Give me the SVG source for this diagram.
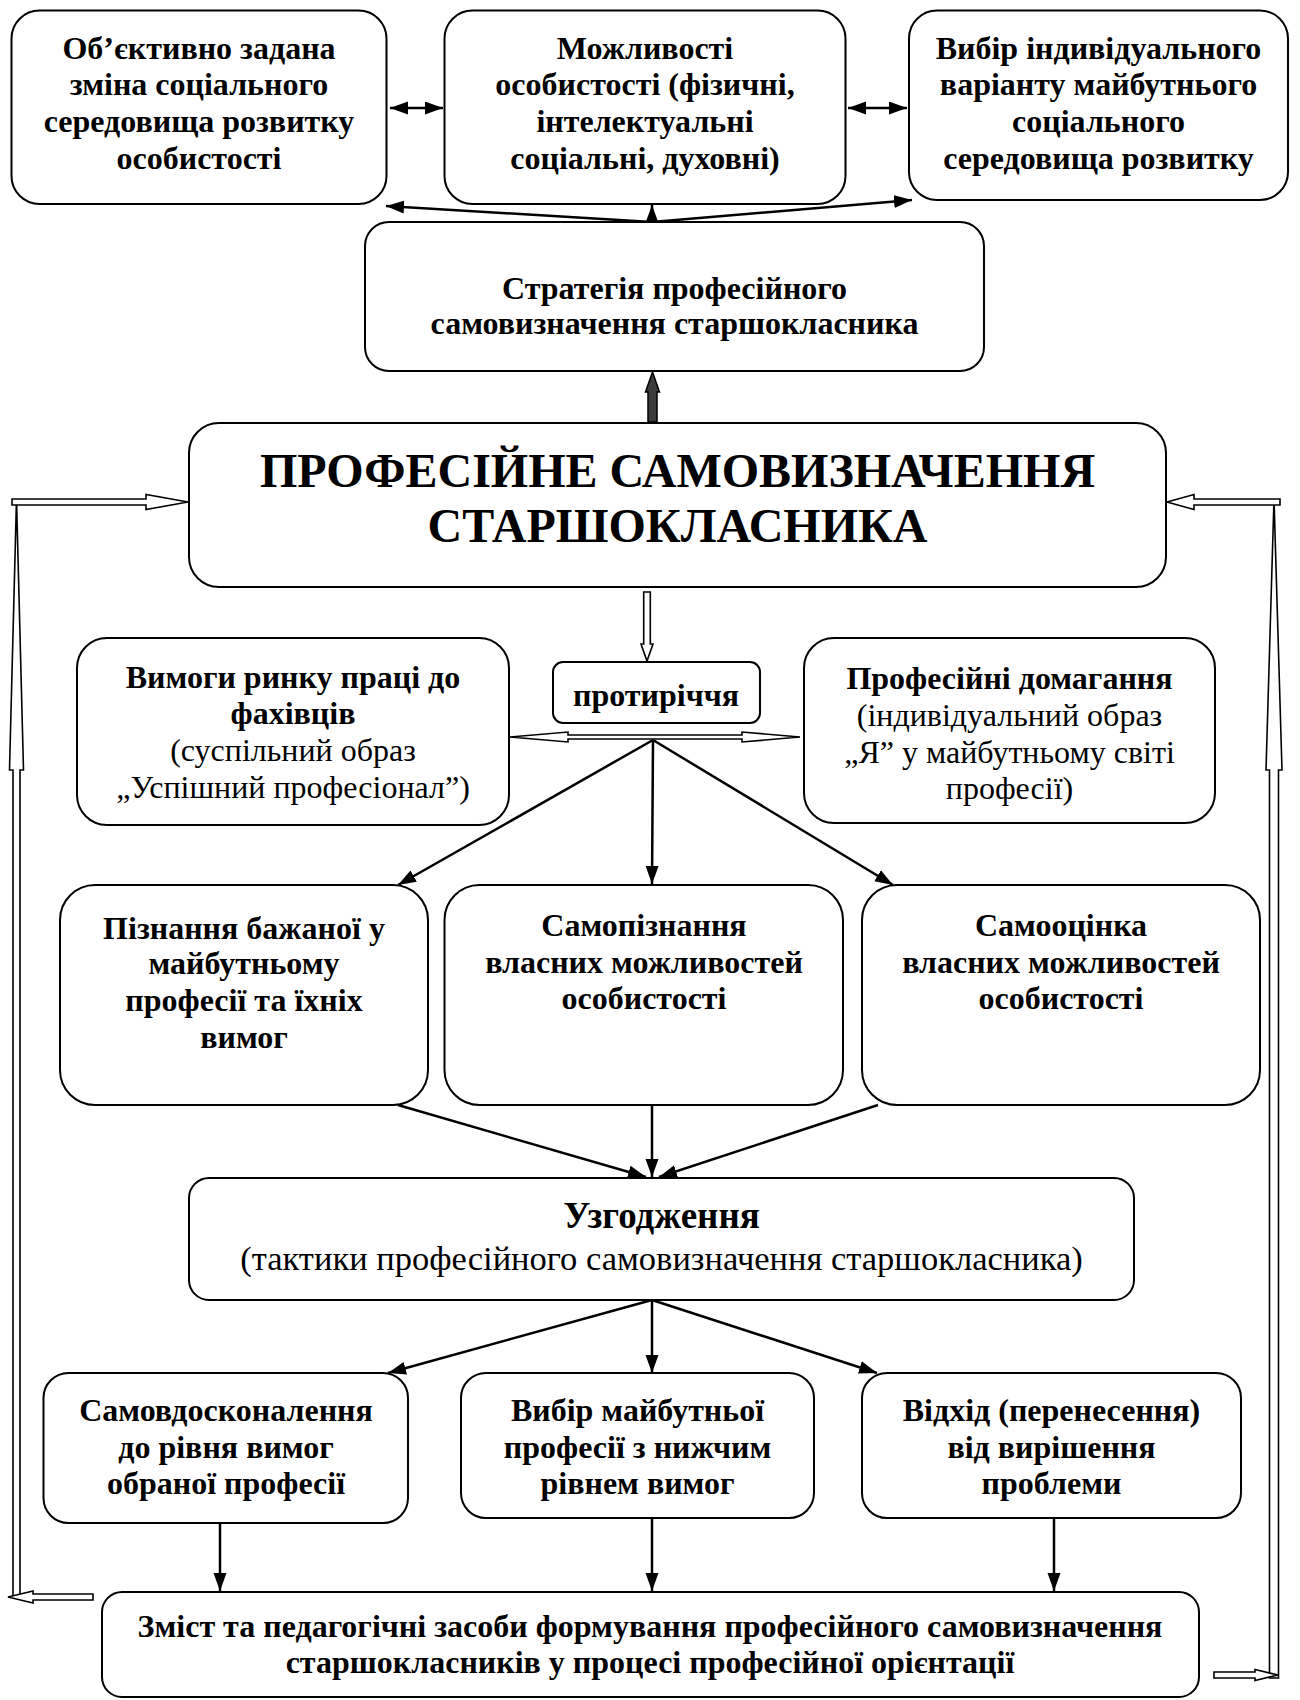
<svg xmlns="http://www.w3.org/2000/svg" width="1300" height="1700" viewBox="0 0 1300 1700">
<style>
.box{fill:#fff;stroke:#000;stroke-width:2}
.t{font-family:"Liberation Serif","Times New Roman",serif;font-size:32px;text-anchor:middle;fill:#000}
.b{font-weight:bold}
.ttl{font-size:48px;font-weight:bold}
.uz{font-size:37px;font-weight:bold}
.sub{font-size:34.5px}
.ln{stroke:#000;stroke-width:2.5;fill:none}
.open{fill:#fff;stroke:#000;stroke-width:1.6;stroke-linejoin:miter}
.blk{fill:#3c3c3c;stroke:#000;stroke-width:1.5}
</style>
<defs>
<marker id="ah" markerUnits="userSpaceOnUse" markerWidth="18" markerHeight="14" refX="18" refY="6.5" orient="auto-start-reverse">
<path d="M0,0 L18,6.5 L0,13 z" fill="#000"/>
</marker>
</defs>

<g id="connectors">
<line class="ln" x1="390" y1="108" x2="443" y2="108" marker-start="url(#ah)" marker-end="url(#ah)"/>
<line class="ln" x1="848" y1="108" x2="907" y2="108" marker-start="url(#ah)" marker-end="url(#ah)"/>
<line class="ln" x1="652" y1="222" x2="386" y2="206" marker-end="url(#ah)"/>
<line class="ln" x1="652" y1="222" x2="652" y2="205" marker-end="url(#ah)"/>
<line class="ln" x1="652" y1="222" x2="912" y2="200" marker-end="url(#ah)"/>
<polygon class="blk" points="652.5,372 659.5,392 657,392 657,422 648,422 648,392 645.5,392"/>
<polygon class="open" points="643.7,592 650.3,592 650.3,644 653,644 647,661 641,644 643.7,644"/>
<polygon class="open" points="510,737 568,732 568,735 742,735 742,732 800,737 742,742 742,739 568,739 568,742"/>
<line class="ln" x1="653" y1="740" x2="398" y2="885" marker-end="url(#ah)"/>
<line class="ln" x1="653" y1="740" x2="652" y2="884" marker-end="url(#ah)"/>
<line class="ln" x1="653" y1="740" x2="893" y2="885" marker-end="url(#ah)"/>
<line class="ln" x1="398" y1="1105" x2="646" y2="1177" marker-end="url(#ah)"/>
<line class="ln" x1="652" y1="1105" x2="652" y2="1177" marker-end="url(#ah)"/>
<line class="ln" x1="878" y1="1105" x2="659" y2="1177" marker-end="url(#ah)"/>
<line class="ln" x1="652" y1="1300" x2="388" y2="1373" marker-end="url(#ah)"/>
<line class="ln" x1="652" y1="1300" x2="652" y2="1373" marker-end="url(#ah)"/>
<line class="ln" x1="652" y1="1300" x2="877" y2="1373" marker-end="url(#ah)"/>
<line class="ln" x1="220" y1="1523" x2="220" y2="1591" marker-end="url(#ah)"/>
<line class="ln" x1="652" y1="1518" x2="652" y2="1591" marker-end="url(#ah)"/>
<line class="ln" x1="1054" y1="1518" x2="1054" y2="1591" marker-end="url(#ah)"/>
<polygon class="open" points="16.5,499 23.5,770 20,770 20,1597 13,1597 13,770 9.5,770"/>
<polygon class="open" points="12,499 146,499 146,494.5 188,502 146,509.5 146,505 12,505"/>
<polygon class="open" points="1274,499 1282,770 1278.5,770 1278.5,1678 1269.5,1678 1269.5,770 1266,770"/>
<polygon class="open" points="1280,499 1194,499 1194,494.5 1167,502 1194,509.5 1194,505 1280,505"/>
<polygon class="open" points="93,1594 33,1594 33,1591 8,1597 33,1603 33,1600 93,1600"/>
<polygon class="open" points="1214,1672 1255,1672 1255,1669.5 1278,1675 1255,1680.5 1255,1678 1214,1678"/>
</g>

<g id="node-a">
<rect class="box" x="11.5" y="10.5" width="375" height="193.5" rx="28"/>
<text class="t b" x="199" y="58.5">Об’єктивно задана</text>
<text class="t b" x="199" y="95.2">зміна соціального</text>
<text class="t b" x="199" y="132">середовища розвитку</text>
<text class="t b" x="199" y="168.6">особистості</text>
</g>
<g id="node-b">
<rect class="box" x="444.5" y="10.5" width="401" height="193.5" rx="28"/>
<text class="t b" x="645" y="58.5">Можливості</text>
<text class="t b" x="645" y="95.2">особистості (фізичні,</text>
<text class="t b" x="645" y="132">інтелектуальні</text>
<text class="t b" x="645" y="168.6">соціальні, духовні)</text>
</g>
<g id="node-c">
<rect class="box" x="909" y="10.5" width="379" height="189.5" rx="28"/>
<text class="t b" x="1098.5" y="58.5">Вибір індивідуального</text>
<text class="t b" x="1098.5" y="95.2">варіанту майбутнього</text>
<text class="t b" x="1098.5" y="132">соціального</text>
<text class="t b" x="1098.5" y="168.6">середовища розвитку</text>
</g>
<g id="node-strategy">
<rect class="box" x="365" y="222" width="619" height="149" rx="24"/>
<text class="t b" x="674.5" y="298.5">Стратегія професійного</text>
<text class="t b" x="674.5" y="334">самовизначення старшокласника</text>
</g>
<g id="node-main">
<rect class="box" x="189" y="423" width="977" height="164" rx="30"/>
<text class="t ttl" x="677.5" y="487">ПРОФЕСІЙНЕ САМОВИЗНАЧЕННЯ</text>
<text class="t ttl" x="677.5" y="542">СТАРШОКЛАСНИКА</text>
</g>
<g id="node-demands">
<rect class="box" x="77" y="638" width="432" height="187" rx="30"/>
<text class="t b" x="293" y="688">Вимоги ринку праці до</text>
<text class="t b" x="293" y="724">фахівців</text>
<text class="t" x="293" y="761">(суспільний образ</text>
<text class="t" x="293" y="798">„Успішний професіонал”)</text>
</g>
<g id="node-contradiction">
<rect class="box" x="553" y="662" width="207" height="61" rx="10"/>
<text class="t b" x="656" y="706">протиріччя</text>
</g>
<g id="node-claims">
<rect class="box" x="804" y="638" width="411" height="185" rx="30"/>
<text class="t b" x="1009.5" y="689">Професійні домагання</text>
<text class="t" x="1009.5" y="726">(індивідуальний образ</text>
<text class="t" x="1009.5" y="763">„Я” у майбутньому світі</text>
<text class="t" x="1009.5" y="799">професії)</text>
</g>
<g id="node-cognition">
<rect class="box" x="60" y="885" width="368" height="220" rx="35"/>
<text class="t b" x="244" y="939">Пізнання бажаної у</text>
<text class="t b" x="244" y="974">майбутньому</text>
<text class="t b" x="244" y="1011">професії та їхніх</text>
<text class="t b" x="244" y="1048">вимог</text>
</g>
<g id="node-selfcognition">
<rect class="box" x="444.5" y="885" width="398.5" height="220" rx="35"/>
<text class="t b" x="644" y="936">Самопізнання</text>
<text class="t b" x="644" y="973">власних можливостей</text>
<text class="t b" x="644" y="1009">особистості</text>
</g>
<g id="node-selfassessment">
<rect class="box" x="862" y="885" width="398" height="220" rx="35"/>
<text class="t b" x="1061" y="936">Самооцінка</text>
<text class="t b" x="1061" y="973">власних можливостей</text>
<text class="t b" x="1061" y="1009">особистості</text>
</g>
<g id="node-coordination">
<rect class="box" x="189" y="1178" width="945" height="122" rx="20"/>
<text class="t uz" x="661.5" y="1228">Узгодження</text>
<text class="t sub" x="661.5" y="1270">(тактики професійного самовизначення старшокласника)</text>
</g>
<g id="node-improvement">
<rect class="box" x="43.5" y="1373" width="364.5" height="150" rx="25"/>
<text class="t b" x="226" y="1421">Самовдосконалення</text>
<text class="t b" x="226" y="1458">до рівня вимог</text>
<text class="t b" x="226" y="1494">обраної професії</text>
</g>
<g id="node-choice">
<rect class="box" x="461" y="1373" width="353" height="145" rx="25"/>
<text class="t b" x="637.5" y="1421">Вибір майбутньої</text>
<text class="t b" x="637.5" y="1458">професії з нижчим</text>
<text class="t b" x="637.5" y="1494">рівнем вимог</text>
</g>
<g id="node-withdrawal">
<rect class="box" x="862" y="1373" width="379" height="145" rx="25"/>
<text class="t b" x="1051.5" y="1421">Відхід (перенесення)</text>
<text class="t b" x="1051.5" y="1458">від вирішення</text>
<text class="t b" x="1051.5" y="1494">проблеми</text>
</g>
<g id="node-content">
<rect class="box" x="102" y="1592" width="1097" height="105" rx="20"/>
<text class="t b" x="650" y="1637">Зміст та педагогічні засоби формування професійного самовизначення</text>
<text class="t b" x="650" y="1673">старшокласників у процесі професійної орієнтації</text>
</g>
</svg>
